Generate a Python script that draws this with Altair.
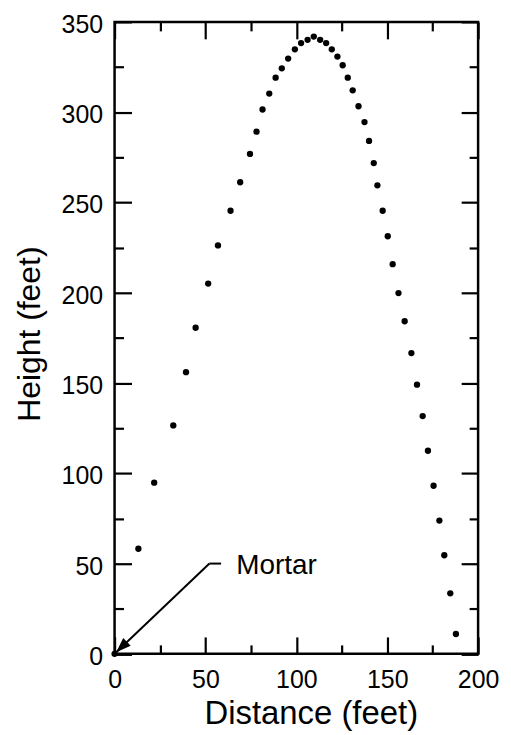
import altair as alt
import pandas as pd

# Shell trajectory
distance = [0, 13.1, 21.8, 32.3, 39.3, 44.6, 51.5, 56.9, 63.8, 69.1,
            74.5, 78.1, 81.4, 85.1, 88.6, 92.0, 95.5, 99.2, 102.6, 106.2,
            109.6, 113.1, 116.4, 119.5, 122.6, 125.5, 128.3, 131.0, 134.2, 137.5,
            140.0, 142.6, 144.6, 147.5, 150.3, 153.0, 156.2, 159.6, 163.3, 166.4,
            169.5, 172.4, 175.5, 178.7, 181.4, 184.7, 187.8]
height = [0, 58.2, 94.8, 126.5, 156.0, 180.6, 205.1, 226.2, 245.4, 261.2,
          276.9, 289.2, 301.5, 310.3, 319.1, 324.3, 329.7, 334.8, 338.3, 340.1,
          341.9, 340.1, 338.3, 334.8, 330.8, 326.0, 319.1, 312.1, 303.3, 294.5,
          284.1, 271.8, 259.5, 245.4, 231.3, 215.8, 199.8, 184.2, 166.6, 149.1,
          131.7, 112.5, 93.1, 73.8, 54.6, 33.5, 11.0]

x_major = [0, 50, 100, 150, 200]
x_minor = [25, 75, 125, 175]
y_major = [0, 50, 100, 150, 200, 250, 300, 350]
y_minor = [25, 75, 125, 175, 225, 275, 325]

# Annotation: "Mortar" label with leader line and arrow
seg_x1 = [52.2, 52.2]
seg_y1 = [50.0, 50.0]
seg_x2 = [58.6, 0.9]
seg_y2 = [50.0, 0.9]
arrow_tip_x = [0.9]
arrow_tip_y = [0.9]
label_text = ["Mortar"]
label_x = [67.0]
label_y = [44.5]

W, H = 365, 634.5
FONT = "Liberation Sans"

df = pd.DataFrame({"distance": distance, "height": height})
seg_df = pd.DataFrame({"x1": seg_x1, "y1": seg_y1, "x2": seg_x2, "y2": seg_y2})
tip_df = pd.DataFrame({"x": arrow_tip_x, "y": arrow_tip_y})
lab_df = pd.DataFrame({"x": label_x, "y": label_y, "t": label_text})

xscale = alt.Scale(domain=[0, 200], nice=False, zero=False)
yscale = alt.Scale(domain=[0, 350], nice=False, zero=False)

points = alt.Chart(df).mark_circle(size=40, color="black", opacity=1).encode(
    x=alt.X("distance:Q", scale=xscale,
            axis=alt.Axis(orient="bottom", values=x_major, ticks=False, domain=False,
                          grid=False, labelFontSize=25, labelPadding=14,
                          labelFlush=False,
                          labelColor="black", labelFont=FONT,
                          title="Distance (feet)", titleFontSize=33, titleFont=FONT,
                          titleFontWeight="normal", titleColor="black",
                          titleBaseline="alphabetic", titleAlign="center",
                          titleX=197, titleY=70)),
    y=alt.Y("height:Q", scale=yscale,
            axis=alt.Axis(orient="left", values=y_major, ticks=False, domain=False,
                          grid=False, labelFontSize=25, labelPadding=12,
                          labelFlush=False, labelOffset=2.5,
                          labelColor="black", labelFont=FONT,
                          title="Height (feet)", titleFontSize=32, titleFont=FONT,
                          titleFontWeight="normal", titleColor="black",
                          titleBaseline="alphabetic", titleAlign="center",
                          titleAngle=270, titleX=-75, titleY=313)),
)


def tick_layer(xorient, yorient, xvals, yvals, size):
    return alt.Chart(df).mark_point(opacity=0).encode(
        x=alt.X("distance:Q", scale=xscale,
                axis=alt.Axis(orient=xorient, offset=-H, values=xvals, tickSize=size,
                              tickWidth=2.2, tickColor="black", labels=False,
                              domain=False, grid=False, title="")),
        y=alt.Y("height:Q", scale=yscale,
                axis=alt.Axis(orient=yorient, offset=-W, values=yvals, tickSize=size,
                              tickWidth=2.2, tickColor="black", labels=False,
                              domain=False, grid=False, title="")),
    )


t1 = tick_layer("top", "right", x_major, y_major, 17)
t2 = tick_layer("top", "right", x_minor, y_minor, 9)
t3 = tick_layer("bottom", "left", x_major, y_major, 17)
t4 = tick_layer("bottom", "left", x_minor, y_minor, 9)

lines = alt.Chart(seg_df).mark_rule(color="black", strokeWidth=2).encode(
    x=alt.X("x1:Q", scale=xscale, axis=None),
    y=alt.Y("y1:Q", scale=yscale, axis=None),
    x2="x2:Q",
    y2="y2:Q",
)

arrow = alt.Chart(tip_df).mark_point(
    shape="M0,0L0.36,1L-0.36,1Z", size=900, angle=226, filled=True,
    color="black", opacity=1, strokeWidth=0,
).encode(
    x=alt.X("x:Q", scale=xscale, axis=None),
    y=alt.Y("y:Q", scale=yscale, axis=None),
)

label = alt.Chart(lab_df).mark_text(
    align="left", baseline="alphabetic", fontSize=28, font=FONT, color="black",
).encode(
    x=alt.X("x:Q", scale=xscale, axis=None),
    y=alt.Y("y:Q", scale=yscale, axis=None),
    text="t:N",
)

chart = alt.layer(points, t1, t2, t3, t4, lines, arrow, label).resolve_axis(
    x="independent", y="independent"
).properties(
    width=W, height=H,
    background="white",
    autosize=alt.AutoSizeParams(type="none"),
    padding={"left": 107, "top": 12.5, "right": 25, "bottom": 78},
).configure_view(
    stroke="black", strokeWidth=2.5,
)

chart.save("out.html", embed_options={"renderer": "svg", "actions": False})
